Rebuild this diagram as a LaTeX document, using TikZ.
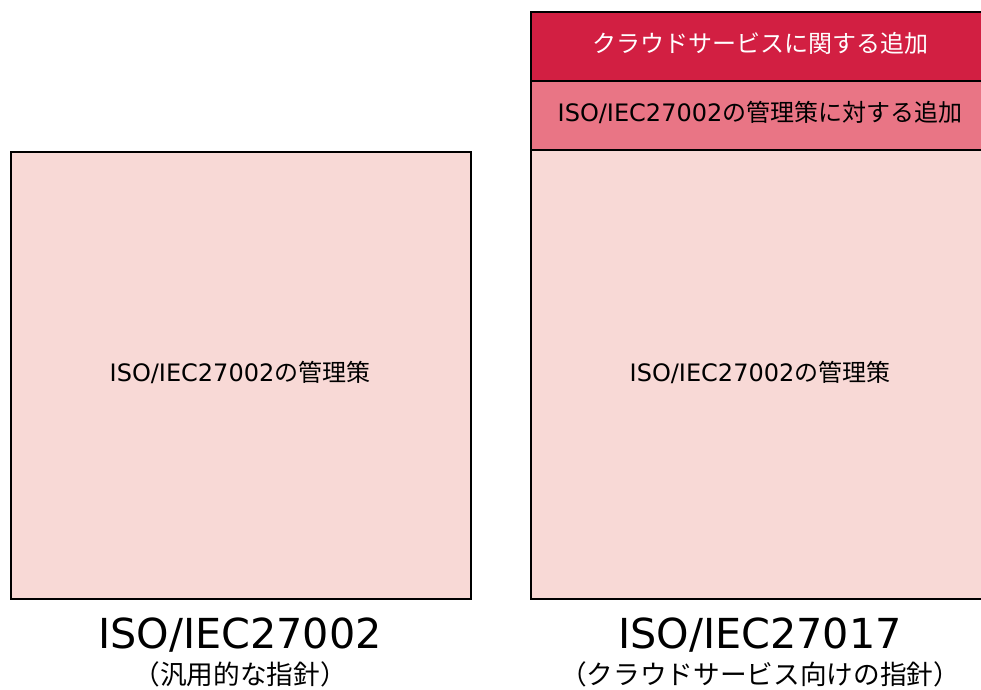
\documentclass[tikz,border=0pt]{standalone}
\usepackage{fontspec}
\newfontfamily\lat{DejaVu Sans}
\newfontfamily\cjk{Noto Sans CJK JP}
\definecolor{dred}{HTML}{D21F42}
\definecolor{mpink}{HTML}{E97585}
\definecolor{lpink}{HTML}{F8D9D6}
\tikzset{
  box/.style={draw=black, line width=1.6pt, anchor=north west, inner sep=0pt, minimum width=345pt},
  boxtext/.style={inner sep=0pt, font=\fontsize{18}{21}\selectfont},
  title/.style={inner sep=0pt, font=\lat\fontsize{31}{36}\selectfont},
  subtitle/.style={inner sep=0pt, font=\cjk\fontsize{20}{24}\selectfont},
}
\begin{document}
\begin{tikzpicture}[x=0.75pt,y=-0.75pt]
\useasboundingbox (0,0) rectangle (981,689);
\clip (0,0) rectangle (981,689);
\fill[white] (0,0) rectangle (981,689);
% left
\node[box, fill=lpink, minimum height=335.25pt] (lbox) at (10,151) {};
\node[boxtext] (tleft) at (240,372) {{\lat ISO/IEC27002}{\cjk の管理策}};
% right
\node[box, fill=lpink, minimum height=336.75pt] (rmain) at (530,149) {};
\node[box, fill=mpink, minimum height=51.75pt] (rmid) at (530,80) {};
\node[box, fill=dred, minimum height=51.75pt] (rtop) at (530,11) {};
\node[boxtext] (tmain) at (760,372) {{\lat ISO/IEC27002}{\cjk の管理策}};
\node[boxtext] (tmid) at (760,112) {{\lat ISO/IEC27002}{\cjk の管理策に対する追加}};
\node[boxtext, text=white] (ttop) at (760,43) {{\cjk クラウドサービスに関する追加}};
% titles
\node[title] (ltitle) at (240,635) {ISO/IEC27002};
\node[subtitle] (lsub) at (240,674) {（汎用的な指針）};
\node[title] (rtitle) at (760,635) {ISO/IEC27017};
\node[subtitle] (rsub) at (760,674) {（クラウドサービス向けの指針）};
\end{tikzpicture}
\end{document}
